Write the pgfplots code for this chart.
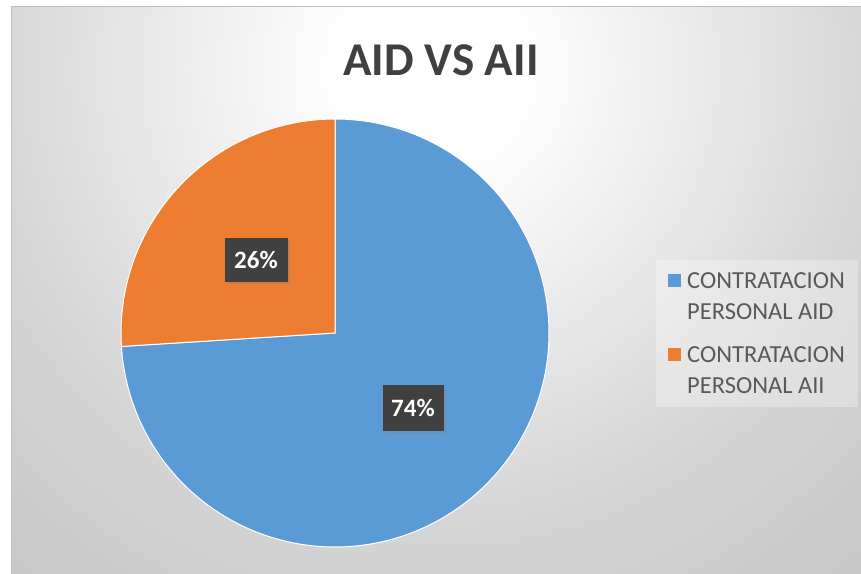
\documentclass[border=0pt]{standalone}
\usepackage{fontspec}
\setmainfont{Carlito}
\usepackage{pgfplots}
\pgfplotsset{compat=1.18}
\usetikzlibrary{shadows}
\definecolor{pieblue}{HTML}{5B9BD5}
\definecolor{pieorange}{HTML}{ED7D31}
\definecolor{titlegray}{HTML}{404040}
\definecolor{legendtext}{HTML}{595959}
\definecolor{boxgray}{HTML}{404040}
\definecolor{bgmid}{HTML}{D5D5D5}
\definecolor{bgout}{HTML}{C8C8C8}
\definecolor{framegray}{HTML}{BFBFBF}
\pgfdeclareradialshading{bgshade}{\pgfpoint{0bp}{0bp}}{%
  color(0bp)=(white); color(3.2bp)=(white); color(16.1bp)=(bgmid);
  color(23.2bp)=(bgout); color(50bp)=(bgout)}
% pie values (percent)
\def\valAID{74}
\def\valAII{26}
\begin{document}
\begin{tikzpicture}[x=1pt,y=1pt]
\useasboundingbox (0,0) rectangle (861,573);
\fill[white] (0,0) rectangle (861,573);
\begin{scope}
\clip (11,0) rectangle (861,566);
\shade[shading=bgshade] (-270,-197) rectangle (1130,1203);
\end{scope}
\draw[framegray, line width=1pt] (11,-1) -- (11,566) -- (862,566);
\pgfmathsetmacro{\startA}{90-3.6*\valAID}
\pgfmathsetmacro{\endB}{90+3.6*\valAII}
\begin{axis}[
  at={(0,0)}, anchor=origin,
  width=861pt, height=573pt, scale only axis,
  xmin=0, xmax=861, ymin=0, ymax=573,
  hide axis, clip=false,
  legend style={at={(axis cs:656,313)}, anchor=north west,
    draw=none, fill=white, fill opacity=0.3, text opacity=1,
    inner xsep=11pt, inner ysep=10pt, row sep=21pt,
    font=\fontsize{24.5}{31}\selectfont, text=legendtext,
    cells={align=left, anchor=north west}},
  legend image code/.code={\path (0pt,0pt) (17pt,0pt);
    \fill[#1, fill opacity=1, draw=none] (0pt,-16.5pt) rectangle (13pt,-3.5pt);},
]
\addplot[fill=pieblue, draw=white, line width=1pt, domain=\startA:90, samples=180]
  ({335+214*cos(x)}, {240+214*sin(x)}) -- (335,240) -- cycle;
\addlegendentry{CONTRATACION\\PERSONAL AID}
\addplot[fill=pieorange, draw=white, line width=1pt, domain=90:\endB, samples=80]
  ({335+214*cos(x)}, {240+214*sin(x)}) -- (335,240) -- cycle;
\addlegendentry{CONTRATACION\\PERSONAL AII}
\node[font=\fontsize{47}{54}\selectfont\bfseries, text=titlegray] at (axis cs:441,513) {AID VS AII};
\node[fill=boxgray, text=white, font=\fontsize{25}{28}\bfseries\selectfont,
  minimum width=63pt, minimum height=44pt, inner sep=0pt,
  drop shadow={shadow xshift=2pt, shadow yshift=-2pt, opacity=0.35}]
  at (axis cs:256,313) {\valAII\%};
\node[fill=boxgray, text=white, font=\fontsize{25}{28}\bfseries\selectfont,
  minimum width=61pt, minimum height=45pt, inner sep=0pt,
  drop shadow={shadow xshift=2pt, shadow yshift=-2pt, opacity=0.35}]
  at (axis cs:413,165) {\valAID\%};
\end{axis}
\end{tikzpicture}
\end{document}
